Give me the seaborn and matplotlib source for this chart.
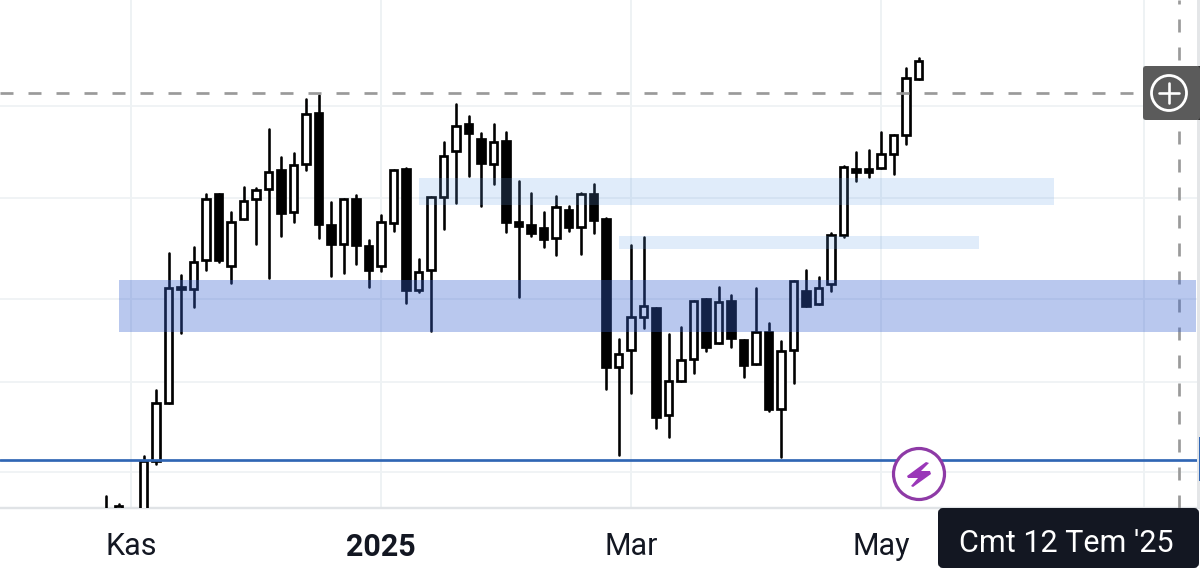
import matplotlib
matplotlib.use("Agg")
import matplotlib.pyplot as plt
from matplotlib.patches import Circle, FancyBboxPatch, Polygon, Rectangle
import pandas as pd
import seaborn as sns

# Candle readings, in chart height units measured downward from the top of the picture
idx = list(range(-3, 63))
high = [496, 504, 600, 456, 390, 253, 275, 247, 194, 194, 212, 187, 188, 129, 157, 153, 99, 95, 202, 199, 195, 240, 215,
        170, 168, 259, 197, 142, 104, 116, 133, 124, 132, 181, 193, 212, 196, 206, 193, 184, 218, 339, 245, 237, 308,
        334, 327, 301, 299, 287, 295, 340, 288, 323, 341, 281, 270, 277, 233, 166, 152, 150, 132, 135, 68, 58]
body_top = [530, 506, 600, 461, 403, 288, 287, 262, 199, 194, 222, 201, 190, 172, 170, 165, 114, 113, 225, 199, 199, 246,
            222, 170, 169, 272, 197, 156, 126, 124, 139, 142, 141, 222, 225, 228, 207, 210, 194, 194, 219, 354, 317, 306,
            308, 381, 360, 301, 299, 302, 301, 340, 332, 332, 351, 281, 291, 288, 235, 167, 169, 169, 154, 135, 78, 61]
body_bot = [550, 530, 620, 530, 461, 403, 289, 289, 260, 260, 266, 219, 199, 189, 213, 212, 164, 224, 244, 244, 245, 270,
            266, 223, 290, 290, 270, 197, 151, 133, 163, 164, 222, 226, 233, 239, 238, 227, 227, 220, 367, 367, 350, 317,
            417, 415, 381, 359, 347, 343, 338, 365, 364, 409, 409, 350, 306, 304, 284, 235, 172, 172, 168, 154, 135, 79]
low = [560, 540, 630, 540, 464, 403, 333, 307, 270, 262, 283, 219, 244, 278, 236, 222, 170, 238, 276, 273, 264, 287, 271,
       231, 303, 292, 331, 229, 203, 176, 206, 184, 232, 297, 236, 247, 255, 231, 254, 233, 389, 455, 393, 328, 428, 437,
       381, 373, 351, 343, 347, 377, 364, 411, 457, 383, 306, 304, 291, 237, 181, 177, 168, 174, 144, 79]
falling = [1, 0, 0, 0, 0, 0, 1, 0, 0, 1, 0, 0, 0, 0, 1, 0, 0, 1, 1, 0, 1, 1, 0, 0, 1, 0, 0, 0, 0, 1, 1, 0, 1, 1, 1, 1, 0,
           1, 0, 1, 1, 0, 0, 0, 1, 0, 0, 0, 1, 0, 1, 1, 0, 1, 0, 0, 1, 0, 0, 0, 1, 1, 0, 0, 0, 0]
tick_pos = [-1, 19, 39, 59]
tick_text = ["Kas", "2025", "Mar", "May"]
h_grid = [106, 198, 299, 382, 472]
v_grid = [-1, 19, 39, 59, 80]
band_dark = (-1.96, 280, 331.5)
band_light_a = (22.04, 178, 205)
band_light_b = (38.04, 236, 249)
band_ends = (84.24, 72.84, 66.84)
support = 459.5
last_price = 93
cursor_pos = 82.84
date_text = "Cmt 12 Tem '25"

sns.set_theme(style="white")
plt.rcParams["font.family"] = ["Roboto", "DejaVu Sans"]
fig = plt.figure(figsize=(12, 5.69), dpi=100, facecolor="white")
ax = fig.add_axes([0, 61 / 569, 1, 508 / 569])
ax.set_xlim(-11.48, 84.52)
ax.set_ylim(508, 0)
px = 0.72

for v in h_grid:
    ax.axhline(v, color="#f0f3f5", lw=2 * px, zorder=1)
for v in v_grid:
    ax.axvline(v, color="#eef2f4", lw=2 * px, zorder=1)

df = pd.DataFrame({"i": idx * 2, "price": high + low})
sns.lineplot(data=df, x="i", y="price", units="i", estimator=None, color="black", lw=2.6 * px,
             sort=False, legend=False, ax=ax, zorder=3)
ax.set_ylim(508, 0)
for i, t, b, f in zip(idx, body_top, body_bot, falling):
    ax.bar(i, b - t, bottom=t, width=0.63 if f else 0.58, facecolor="black" if f else "white", edgecolor="black",
           linewidth=2.7 * px, zorder=4)

ax.axhline(support, color="#3066b4", lw=2.7 * px, zorder=5)
dash_w = 2.7 * px
ax.axhline(last_price, color="#9a9a9a", lw=dash_w, dashes=(13 * px / dash_w, 15 * px / dash_w), zorder=5)
ax.axvline(cursor_pos, color="#9a9a9a", lw=dash_w, dashes=(13 * px / dash_w, 15 * px / dash_w), zorder=5)

for (x0, y0, y1), x1, col, a in zip((band_dark, band_light_a, band_light_b), band_ends,
                                    ("#3762D0", "#66A0E8", "#66A0E8"), (0.35, 0.2, 0.2)):
    ax.add_patch(Rectangle((x0, y0), x1 - x0, y1 - y0, facecolor=col, alpha=a, lw=0, zorder=6))

ax.set_xticks(tick_pos)
ax.set_xticklabels(tick_text, fontsize=22, color="#131722")
ax.get_xticklabels()[1].set_fontweight("bold")
ax.set_yticks([])
ax.set_xlabel("")
ax.set_ylabel("")
ax.tick_params(axis="x", length=0, pad=17)
for s in ("top", "left"):
    ax.spines[s].set_visible(False)
ax.spines["bottom"].set_color("#e0e3e6")
ax.spines["bottom"].set_linewidth(2.4 * px)
ax.spines["right"].set_visible(False)

# Overlay furniture in pixel coordinates
ov = fig.add_axes([0, 0, 1, 1], facecolor="none")
ov.set_xlim(0, 1200)
ov.set_ylim(569, 0)
ov.axis("off")
ov.add_patch(Rectangle((1197, 0), 3, 508, facecolor="#e4e6e8", lw=0))
ov.add_patch(Rectangle((1198, 66), 2, 54, facecolor="#2a2a2a", lw=0))
ov.add_patch(Rectangle((1198.5, 437), 1.5, 44, facecolor="#3066b4", lw=0))
ov.add_patch(FancyBboxPatch((1146, 69), 51, 48, boxstyle="round,pad=0,rounding_size=0.1", mutation_scale=1,
                            facecolor="#5b5b5b", edgecolor="#5b5b5b", lw=6 * px))
ov.add_patch(Circle((1169, 93), 17.5, facecolor="none", edgecolor="white", lw=2.8 * px))
ov.plot([1159, 1179], [93, 93], color="white", lw=2.6 * px)
ov.plot([1169, 1169], [83, 103], color="white", lw=2.6 * px)
ov.add_patch(Circle((919, 474), 25.5, facecolor="white", edgecolor="#8e3aa6", lw=3.2 * px))
ov.add_patch(Polygon([(926, 462), (929, 463), (921, 471), (930, 471), (931, 474), (913, 487), (911, 486), (918, 478),
                      (908, 478), (907, 476)],
                     closed=True, facecolor="#9a37b8", lw=0))
ov.add_patch(FancyBboxPatch((940, 510), 257, 56, boxstyle="round,pad=0,rounding_size=3", mutation_scale=1,
                            facecolor="#131722", edgecolor="#131722", lw=4 * px))
ov.text(1066.5, 544, date_text, color="white", fontsize=22, ha="center", va="center")

fig.savefig("out.png", dpi=100)
